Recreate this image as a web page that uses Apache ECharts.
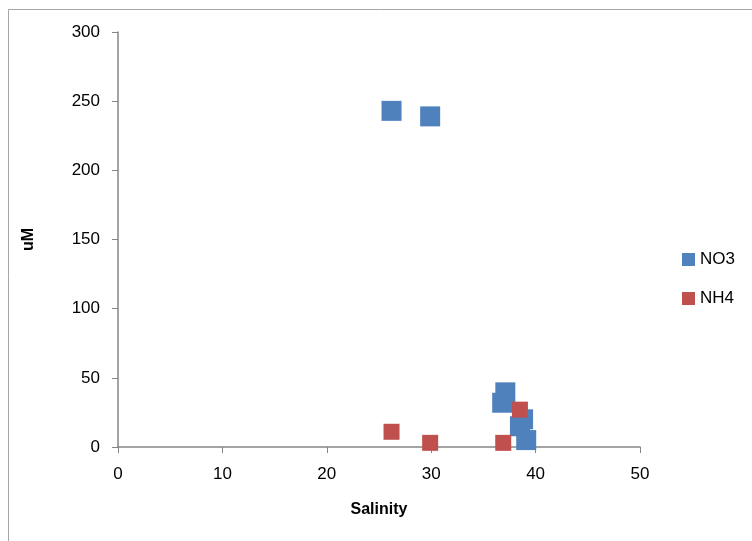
<!DOCTYPE html>
<html><head><meta charset="utf-8">
<script src="https://cdn.jsdelivr.net/npm/echarts@6/dist/echarts.min.js"></script>
<style>html,body{margin:0;padding:0;background:#fff}#c{width:752px;height:541px}</style>
</head><body><div id="c"></div>
<script>
const seriesNames = ['NO3', 'NH4'];
const no3Salinity = [26.2, 29.9, 37.1, 36.8, 38.8, 38.5, 39.1];
const no3Values   = [243, 239, 39.5, 32, 20, 15, 5];
const nh4Salinity = [26.2, 29.9, 36.9, 38.5];
const nh4Values   = [11, 3, 3, 27];
const xTicks = [0, 10, 20, 30, 40, 50];
const yTicks = [0, 50, 100, 150, 200, 250, 300];

const chart = echarts.init(document.getElementById('c'));
const font = 'Liberation Sans, Arial, sans-serif';
const axisCol = '#868686';
chart.setOption({
  animation: false,
  backgroundColor: '#fff',
  graphic: [{type:'rect', left:6, top:7, shape:{width:800, height:600}, style:{fill:'none', stroke:'#a6a6a6', lineWidth:1}, silent:true, z:-10}],
  grid: {left:118, top:32, width:522, height:415, containLabel:false},
  legend: {
    orient:'vertical', left:677, top:246, itemGap:22, itemWidth:13, itemHeight:13,
    icon:'rect', data: seriesNames,
    textStyle:{fontFamily:font, fontSize:17, color:'#000'}
  },
  xAxis: {
    type:'value', min:xTicks[0], max:xTicks[xTicks.length-1], interval:10,
    name:'Salinity', nameLocation:'middle', nameGap:55,
    nameTextStyle:{fontFamily:font, fontSize:16, fontWeight:'bold', color:'#000'},
    axisLine:{onZero:false, lineStyle:{color:axisCol, width:1.5}},
    axisTick:{show:true, length:6, lineStyle:{color:axisCol}},
    axisLabel:{fontFamily:font, fontSize:17, color:'#000', margin:19},
    splitLine:{show:false}
  },
  yAxis: {
    type:'value', min:yTicks[0], max:yTicks[yTicks.length-1], interval:50,
    name:'uM', nameLocation:'middle', nameGap:81, nameRotate:90,
    nameTextStyle:{fontFamily:font, fontSize:16, fontWeight:'bold', color:'#000'},
    axisLine:{show:true, lineStyle:{color:axisCol, width:1.5}},
    axisTick:{show:true, length:6, lineStyle:{color:axisCol}},
    axisLabel:{fontFamily:font, fontSize:17, color:'#000', margin:18},
    splitLine:{show:false}
  },
  series: [
    {name:seriesNames[0], type:'scatter', symbol:'rect', symbolSize:20,
     itemStyle:{color:'#4F81BD', opacity:1}, data: no3Salinity.map((x,i)=>[x, no3Values[i]])},
    {name:seriesNames[1], type:'scatter', symbol:'rect', symbolSize:16,
     itemStyle:{color:'#C0504D', opacity:1}, data: nh4Salinity.map((x,i)=>[x, nh4Values[i]])}
  ]
});
</script></body></html>
